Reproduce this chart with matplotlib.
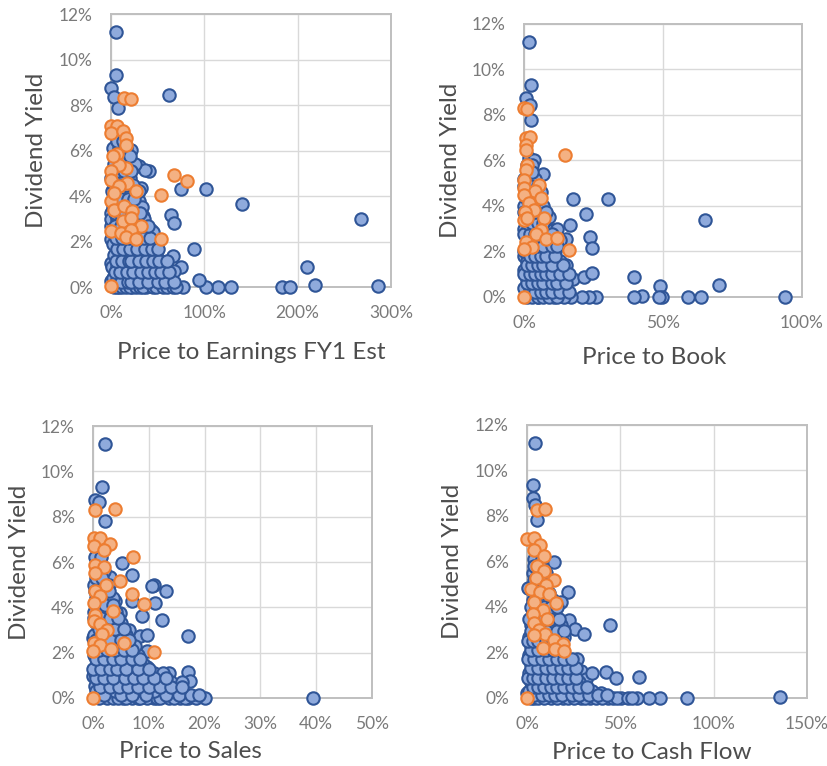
import matplotlib
matplotlib.use("Agg")
import matplotlib.pyplot as plt
from matplotlib.ticker import PercentFormatter

plt.rcParams['font.family'] = ['Lato', 'DejaVu Sans']

# values are in percent
# --- Price to Earnings FY1 Est ---
pe_blue_x = [5.4, 5.4, 0, 3.6, 7.2, 62, 102, 75, 140, 268, 64, 68, 89, 210, 286, 219, 183, 192,
             129, 115, 102, 94, 77, 75, 66, 68, 54, 30, 41, 36, 21, 38, 23, 52, 38, 23, 5.4, 14,
             29, 30, 43, 34, 30, 32, 2, 0, 0, 0, 0, 0, 9,
             3, 6, 12, 16, 20, 27, 31, 34, 45, 48, 56, 60, 66, 70,
             2, 8, 15, 25, 35, 45, 55, 62,
             1, 7, 13, 20, 28, 36, 44, 50, 58,
             3, 10, 17, 26, 34, 42, 48,
             2, 9, 16, 24, 32, 40,
             1, 8, 15, 22, 30, 37, 45,
             0, 6, 12, 20, 28, 35,
             2, 9, 18, 26, 33,
             1, 7, 14, 22, 30,
             0, 5, 12, 20,
             3, 10, 18, 26,
             2, 9, 16,
             4, 11,
             5, 11, 18, 22, 30, 40, 50, 58, 68,
             4, 10, 17, 24, 32, 40, 47, 54, 62,
             5, 12, 19, 22, 30, 38, 45, 52, 60,
             6, 13, 20, 28, 36, 44, 50,
             5, 12, 19, 27, 35, 42,
             4, 11, 18, 25, 33, 40,
             4, 10, 15, 23, 31,
             5, 11, 18, 25,
             3, 9, 16, 24,
             7, 14, 22,
             6, 13, 20,
             6, 13]
pe_blue_y = [11.23, 9.33, 8.74, 8.37, 7.86, 8.45, 4.32, 4.32, 3.66, 2.97, 3.18, 2.81, 1.67, 0.88,
             0.03, 0.07, 0, 0, 0, 0, 0, 0.3, 0, 0.9, 1.38, 0.7, 1.13, 5.3, 5.08, 5.15, 6.03, 0, 0,
             0.2, 0.83, 1.42, 1.42, 0.7, 0.6, 1.7, 2.5, 3.1, 3.8, 4.35, 4.9, 3.25, 2.7, 2.1, 1.05,
             0.25, 0,
             0, 0, 0, 0, 0, 0, 0, 0, 0, 0, 0, 0, 0, 0,
             0.4, 0.4, 0.4, 0.4, 0.4, 0.4, 0.4, 0.4,
             0.9, 0.9, 0.9, 0.9, 0.9, 0.9, 0.9, 0.9, 0.9,
             1.4, 1.4, 1.4, 1.4, 1.4, 1.4, 1.4,
             1.9, 1.9, 1.9, 1.9, 1.9, 1.9,
             2.4, 2.4, 2.4, 2.4, 2.4, 2.4, 2.4,
             3.0, 3.0, 3.0, 3.0, 3.0, 3.0,
             3.5, 3.5, 3.5, 3.5, 3.5,
             4.2, 4.2, 4.2, 4.2, 4.2,
             4.8, 4.8, 4.8, 4.8,
             5.4, 5.4, 5.4, 5.4,
             6.1, 6.1, 6.1,
             6.8, 6.8,
             0.2, 0.2, 0.2, 0.2, 0.2, 0.2, 0.2, 0.2, 0.2,
             0.65, 0.65, 0.65, 0.65, 0.65, 0.65, 0.65, 0.65, 0.65,
             1.15, 1.15, 1.15, 1.15, 1.15, 1.15, 1.15, 1.15, 1.15,
             1.65, 1.65, 1.65, 1.65, 1.65, 1.65, 1.65,
             2.15, 2.15, 2.15, 2.15, 2.15, 2.15,
             2.7, 2.7, 2.7, 2.7, 2.7, 2.7,
             3.25, 3.25, 3.25, 3.25, 3.25,
             3.85, 3.85, 3.85, 3.85,
             4.5, 4.5, 4.5, 4.5,
             5.1, 5.1, 5.1,
             5.75, 5.75, 5.75,
             6.4, 6.4]
pe_orange_x = [14, 21, 0, 7, 0, 12.5, 16, 16, 7, 16, 9, 0, 0, 17, 27, 68, 82, 54, 54, 0, 3.6,
               14, 23, 12.5, 21.5, 32, 0, 11, 21.5, 16, 27, 0, 2, 9, 3.6]
pe_orange_y = [8.33, 8.27, 7.06, 7.06, 6.76, 6.84, 6.54, 6.25, 5.86, 5.23, 5.37, 5.08, 4.71,
               4.57, 4.2, 4.93, 4.64, 4.03, 2.12, 3.76, 3.4, 3.54, 3.32, 2.88, 3.03, 2.69, 2.45,
               2.37, 2.52, 2.2, 2.1, 0.03, 5.74, 4.42, 4.13]

# --- Price to Book ---
pb_blue_x = [1.8, 2.4, 0.6, 2.2, 2.4, 1.8, 3.6, 6.9, 17.6, 30.2, 22.2, 16.4, 23.6, 24.3, 65,
             10.2, 11.4, 15, 10.2, 15, 12.8, 17.7, 21.6, 24.6, 39.5, 49, 70, 94, 63.7, 59, 49.7,
             48.5, 42.5, 39.5, 26, 23.4, 21, 17, 14.4, 10.8, 10.2, 5.4, 2.2, 5, 0,
             1, 3, 5, 7, 9, 12,
             0, 2, 4, 6, 8, 11, 13,
             1, 3, 5, 7, 9, 11, 14,
             0, 2, 4, 6, 8, 12,
             1, 3, 5, 7, 9, 13,
             0, 2, 4, 6, 8, 11,
             1, 3, 5, 7, 9, 13,
             0, 2, 4, 8, 12,
             1, 3, 6, 9,
             0, 2, 5, 7,
             1, 3, 6,
             0, 2, 4,
             1, 3,
             2, 4, 6, 8, 10, 13, 16,
             1, 3, 5, 7, 10, 12, 15,
             0, 2, 4, 6, 8, 10, 13, 16,
             1, 3, 5, 7, 10, 14,
             2, 4, 6, 8, 11,
             1, 3, 5, 7, 10, 12,
             0, 2, 4, 6, 10,
             1, 3, 5, 7,
             0, 2, 4, 8,
             1, 3, 5,
             0, 2, 5,
             1, 3]
pb_blue_y = [11.2, 9.3, 8.75, 8.43, 7.8, 6.1, 6.04, 5.4, 4.3, 4.32, 3.66, 3.15, 2.64, 2.15, 3.37,
             2.96, 2.6, 2.56, 1.57, 1.42, 0.9, 0.79, 0.9, 1.05, 0.88, 0.47, 0.54, 0, 0, 0, 0,
             0, 0.06, 0, 0, 0, 0, 0, 0, 0, 0.2, 1.08, 0.64, 0, 1.8,
             0, 0, 0, 0, 0, 0,
             0.4, 0.4, 0.4, 0.4, 0.4, 0.4, 0.4,
             0.8, 0.8, 0.8, 0.8, 0.8, 0.8, 0.8,
             1.2, 1.2, 1.2, 1.2, 1.2, 1.2,
             1.6, 1.6, 1.6, 1.6, 1.6, 1.6,
             2.0, 2.0, 2.0, 2.0, 2.0, 2.0,
             2.5, 2.5, 2.5, 2.5, 2.5, 2.5,
             3.0, 3.0, 3.0, 3.0, 3.0,
             3.5, 3.5, 3.5, 3.5,
             4.0, 4.0, 4.0, 4.0,
             4.6, 4.6, 4.6,
             5.2, 5.2, 5.2,
             5.8, 5.8,
             0.2, 0.2, 0.2, 0.2, 0.2, 0.2, 0.2,
             0.6, 0.6, 0.6, 0.6, 0.6, 0.6, 0.6,
             1.0, 1.0, 1.0, 1.0, 1.0, 1.0, 1.0, 1.0,
             1.4, 1.4, 1.4, 1.4, 1.4, 1.4,
             1.8, 1.8, 1.8, 1.8, 1.8,
             2.25, 2.25, 2.25, 2.25, 2.25, 2.25,
             2.75, 2.75, 2.75, 2.75, 2.75,
             3.25, 3.25, 3.25, 3.25,
             3.75, 3.75, 3.75, 3.75,
             4.3, 4.3, 4.3,
             4.9, 4.9, 4.9,
             5.5, 5.5]
pb_orange_x = [0, 1.2, 0.6, 2.2, 0.6, 0.6, 14.7, 1, 0.6, 0, 5.4, 0, 3.8, 6, 0, 1.8, 3.6, 0.2,
               0, 1.2, 7.2, 6, 4.2, 7.8, 11.7, 0.6, 3, 0, 16.2, 0]
pb_orange_y = [8.3, 8.26, 7.0, 7.02, 6.7, 6.48, 6.23, 5.82, 5.6, 5.16, 4.94, 4.8, 4.67, 4.35,
               4.5, 4.13, 3.84, 3.72, 3.4, 3.47, 3.47, 2.96, 2.78, 2.55, 2.6, 2.4, 2.2, 2.1,
               2.08, 0]

# --- Price to Sales ---
ps_blue_x = [2.2, 1.6, 0.4, 1.0, 2.2, 5.2, 7.0, 3.1, 10.9, 10.6, 13.1, 11.1, 4.0, 7.0, 4.8,
             8.8, 12.4, 6.4, 8.4, 9.7, 17.1, 9.7, 5.8, 2.5, 0.6, 9.7, 0, 4.3, 6.4, 10.3, 11.9,
             13.7, 14.5, 16.97, 17.3, 10.3, 39.4, 20, 17.1, 15.6, 13.6, 10.9, 9.7, 7.0, 5.4,
             2.5, 0.3, 1.3, 3.1, 0, 0.7,
             1, 3.5, 4.5, 6, 8, 8.5, 11.5, 12, 14.5, 16.5, 18.5,
             0.5, 2, 4, 5.5, 7, 9, 11, 13, 15,
             1, 2.5, 5, 6.5, 8, 10, 12, 14, 16,
             0.3, 1.8, 3.5, 5, 7, 8.5, 11, 12.5,
             1, 2.5, 4, 6, 7.5, 9,
             0.2, 1.5, 3, 5, 6.5, 8,
             0.8, 2, 4, 6, 7.5,
             0.2, 1.5, 3, 4.5, 6,
             0.6, 2, 3.5, 5,
             0.2, 1.5, 3, 4.2,
             0.6, 2, 3.5,
             0.2, 1.5, 2.8,
             0.8, 2,
             0.3, 1.4,
             2, 5, 7, 9.5, 13, 15.5, 17.5, 19,
             1.2, 3, 4.7, 6.3, 8, 10, 12, 14, 16,
             0.5, 2, 3.5, 5.7, 7.3, 9, 11, 13,
             0, 1.5, 3, 4.3, 6, 8, 10,
             0.5, 2, 3.5, 5, 7, 8.5,
             1, 2.5, 4, 5.5, 7,
             0.5, 1.5, 3, 5, 6.5,
             1, 2.5, 4, 5.5,
             0.2, 1.5, 3, 4.5,
             0.8, 2.2, 3.5,
             0.3, 1.5, 2.8,
             0.5, 1.7]
ps_blue_y = [11.2, 9.33, 8.74, 8.64, 7.83, 5.95, 5.43, 5.36, 5.0, 4.92, 4.7, 4.19, 4.26, 4.26,
             3.74, 3.6, 3.42, 3.01, 2.72, 2.79, 2.72, 2.06, 1.72, 1.4, 1.42, 1.37, 0.98, 0.63,
             0.95, 0.84, 0.88, 1.1, 0.54, 1.13, 0.73, 0.15, 0, 0, 0, 0, 0, 0, 0, 0, 0, 0,
             0.51, 0.95, 0.66, 2.64, 4.77,
             0, 0, 0, 0, 0, 0, 0, 0, 0, 0, 0,
             0.3, 0.3, 0.3, 0.3, 0.3, 0.3, 0.3, 0.3, 0.3,
             0.7, 0.7, 0.7, 0.7, 0.7, 0.7, 0.7, 0.7, 0.7,
             1.1, 1.1, 1.1, 1.1, 1.1, 1.1, 1.1, 1.1,
             1.5, 1.5, 1.5, 1.5, 1.5, 1.5,
             1.9, 1.9, 1.9, 1.9, 1.9, 1.9,
             2.3, 2.3, 2.3, 2.3, 2.3,
             2.8, 2.8, 2.8, 2.8, 2.8,
             3.3, 3.3, 3.3, 3.3,
             3.8, 3.8, 3.8, 3.8,
             4.4, 4.4, 4.4,
             5.0, 5.0, 5.0,
             5.6, 5.6,
             6.2, 6.2,
             0.15, 0.15, 0.15, 0.15, 0.15, 0.15, 0.15, 0.15,
             0.5, 0.5, 0.5, 0.5, 0.5, 0.5, 0.5, 0.5, 0.5,
             0.9, 0.9, 0.9, 0.9, 0.9, 0.9, 0.9, 0.9,
             1.3, 1.3, 1.3, 1.3, 1.3, 1.3, 1.3,
             1.7, 1.7, 1.7, 1.7, 1.7, 1.7,
             2.1, 2.1, 2.1, 2.1, 2.1,
             2.55, 2.55, 2.55, 2.55, 2.55,
             3.05, 3.05, 3.05, 3.05,
             3.55, 3.55, 3.55, 3.55,
             4.1, 4.1, 4.1,
             4.7, 4.7, 4.7,
             5.3, 5.3]
ps_orange_x = [0.3, 3.9, 0.1, 1.2, 3.1, 0.1, 1.9, 7.2, 0.4, 1.9, 0.4, 2.4, 4.8, 0.4, 7.0, 1.2,
               0.1, 9.1, 3.6, 0.3, 0.1, 1.3, 2.5, 1.6, 0.1, 1.3, 5.5, 3.3, 0, 10.9, 0]
ps_orange_y = [8.3, 8.33, 7.05, 7.05, 6.78, 6.7, 6.53, 6.21, 5.87, 5.8, 5.5, 4.99, 5.18, 4.7,
               4.6, 4.48, 4.19, 4.16, 3.85, 3.67, 3.38, 3.27, 3.01, 2.83, 2.42, 2.35, 2.42,
               2.16, 2.06, 2.04, 0]

# --- Price to Cash Flow ---
pcf_blue_x = [4.5, 3.4, 3.4, 4.5, 5.4, 0.4, 14.3, 21.8, 18.2, 22.3, 25.7, 30.7, 44.3, 2.1, 27,
              16, 4.8, 29, 31.6, 35, 42.5, 47.7, 59.8, 39.6, 19.6, 8.4, 0, 135.5, 85.5, 71.4,
              65.5, 58.9, 50.4, 43.2, 33.9, 28.9, 19.1, 12.9, 3.9,
              2, 6, 9, 16, 22, 25, 31, 37, 40, 46, 48, 54, 56,
              1, 4, 7, 11, 14, 18, 22, 26, 30, 35,
              2, 5, 9, 13, 17, 21, 25, 28,
              1, 4, 8, 12, 16, 20, 24,
              2, 6, 10, 14, 18, 22,
              1, 4, 8, 12, 16, 20,
              2, 5, 9, 13, 17,
              1, 4, 8, 12, 16, 20,
              2, 5, 9, 14, 18,
              3, 7, 11, 15,
              3, 6, 10, 14,
              3, 6, 9,
              3, 6, 10,
              4, 8,
              4, 8, 12, 15, 19, 24, 28, 33, 38, 43,
              3, 6, 9, 13, 16, 20, 24, 28, 32,
              0.5, 3, 6, 10, 14, 18, 22, 26,
              2, 6, 10, 14, 18, 22, 26,
              0.5, 4, 8, 12, 16, 20, 24,
              2, 6, 10, 14, 18,
              0.5, 3, 6, 10, 14, 19,
              2, 6, 10, 16, 20,
              1, 5, 9, 13, 17,
              2, 5, 9, 13, 16,
              4, 8, 12,
              4, 7,
              4, 7]
pcf_blue_y = [11.2, 9.34, 8.78, 8.49, 7.83, 4.83, 5.97, 4.68, 4.24, 3.41, 3.03, 2.81, 3.19,
              2.63, 1.71, 1.42, 1.42, 1.17, 0.83, 1.1, 1.13, 0.88, 0.92, 0.22, 0.63, 0.51, 0.22,
              0.04, 0, 0, 0, 0, 0, 0, 0, 0, 0, 0, 0,
              0, 0, 0, 0, 0, 0, 0, 0, 0, 0, 0, 0, 0,
              0.3, 0.3, 0.3, 0.3, 0.3, 0.3, 0.3, 0.3, 0.3, 0.3,
              0.7, 0.7, 0.7, 0.7, 0.7, 0.7, 0.7, 0.7,
              1.1, 1.1, 1.1, 1.1, 1.1, 1.1, 1.1,
              1.5, 1.5, 1.5, 1.5, 1.5, 1.5,
              1.9, 1.9, 1.9, 1.9, 1.9, 1.9,
              2.3, 2.3, 2.3, 2.3, 2.3,
              2.7, 2.7, 2.7, 2.7, 2.7, 2.7,
              3.2, 3.2, 3.2, 3.2, 3.2,
              3.7, 3.7, 3.7, 3.7,
              4.3, 4.3, 4.3, 4.3,
              4.9, 4.9, 4.9,
              5.5, 5.5, 5.5,
              6.1, 6.1,
              0.15, 0.15, 0.15, 0.15, 0.15, 0.15, 0.15, 0.15, 0.15, 0.15,
              0.5, 0.5, 0.5, 0.5, 0.5, 0.5, 0.5, 0.5, 0.5,
              0.9, 0.9, 0.9, 0.9, 0.9, 0.9, 0.9, 0.9,
              1.3, 1.3, 1.3, 1.3, 1.3, 1.3, 1.3,
              1.7, 1.7, 1.7, 1.7, 1.7, 1.7, 1.7,
              2.1, 2.1, 2.1, 2.1, 2.1,
              2.5, 2.5, 2.5, 2.5, 2.5, 2.5,
              2.95, 2.95, 2.95, 2.95, 2.95,
              3.45, 3.45, 3.45, 3.45, 3.45,
              4.0, 4.0, 4.0, 4.0, 4.0,
              4.6, 4.6, 4.6,
              5.2, 5.2,
              5.8, 5.8]
pcf_orange_x = [5.4, 9.8, 0, 3.9, 7.1, 3.6, 9.3, 5.4, 8.9, 4.8, 14.6, 10.2, 2.1, 7.1, 12, 15.5,
                3.9, 8.4, 3, 10.7, 3.9, 6.6, 9.6, 3.9, 14.3, 19.1, 8.4, 15, 20, 0]
pcf_orange_y = [8.27, 8.3, 7.0, 7.02, 6.73, 6.51, 6.22, 5.81, 5.56, 5.27, 5.2, 4.98, 4.8, 4.68,
                4.58, 4.17, 4.24, 3.88, 3.69, 3.47, 3.29, 3.0, 2.82, 2.78, 2.56, 2.39, 2.2, 2.17,
                2.05, 0]

panels = [
    (pe_blue_x, pe_blue_y, pe_orange_x, pe_orange_y, 'Price to Earnings FY1 Est', [0, 100, 200, 300],
     [0.134, 0.6253, 0.338, 0.3564], 0.5, -0.2),
    (pb_blue_x, pb_blue_y, pb_orange_x, pb_orange_y, 'Price to Book', [0, 50, 100],
     [0.6329, 0.6123, 0.3357, 0.3564], 0.468, -0.182),
    (ps_blue_x, ps_blue_y, ps_orange_x, ps_orange_y, 'Price to Sales', [0, 10, 20, 30, 40, 50],
     [0.1123, 0.0888, 0.337, 0.355], 0.351, -0.16),
    (pcf_blue_x, pcf_blue_y, pcf_orange_x, pcf_orange_y, 'Price to Cash Flow', [0, 50, 100, 150],
     [0.6365, 0.0888, 0.338, 0.3564], 0.445, -0.16),
]

fig = plt.figure(figsize=(8.28, 7.66), dpi=100)

for bx, by, ox, oy, xlabel, xticks, rect, lx, ly in panels:
    ax = fig.add_axes(rect)
    ax.scatter(bx, by, s=80, c='#8faadc', edgecolors='#2f5597', linewidths=1.5,
               clip_on=False, zorder=3)
    ax.scatter(ox, oy, s=80, c='#f4b183', edgecolors='#ed7d31', linewidths=1.5,
               clip_on=False, zorder=4)
    ax.set_xlim(xticks[0], xticks[-1])
    ax.set_ylim(0, 12)
    ax.set_xticks(xticks)
    ax.set_yticks([0, 2, 4, 6, 8, 10, 12])
    ax.xaxis.set_major_formatter(PercentFormatter(decimals=0))
    ax.yaxis.set_major_formatter(PercentFormatter(decimals=0))
    ax.tick_params(length=0, labelsize=12.5, labelcolor='#7a7a7a', pad=13)
    ax.grid(True, color='#d9d9d9', linewidth=1.0, zorder=0)
    ax.set_axisbelow(True)
    for sp in ax.spines.values():
        sp.set_color('#bfbfbf')
        sp.set_linewidth(1.4)
    ax.set_ylabel('Dividend Yield', fontsize=17.5, color='#4d4d4d')
    ax.yaxis.set_label_coords(-0.227, 0.5)
    ax.set_xlabel(xlabel, fontsize=17.5, color='#4d4d4d')
    ax.xaxis.set_label_coords(lx, ly)

fig.savefig('out.png', dpi=100)
